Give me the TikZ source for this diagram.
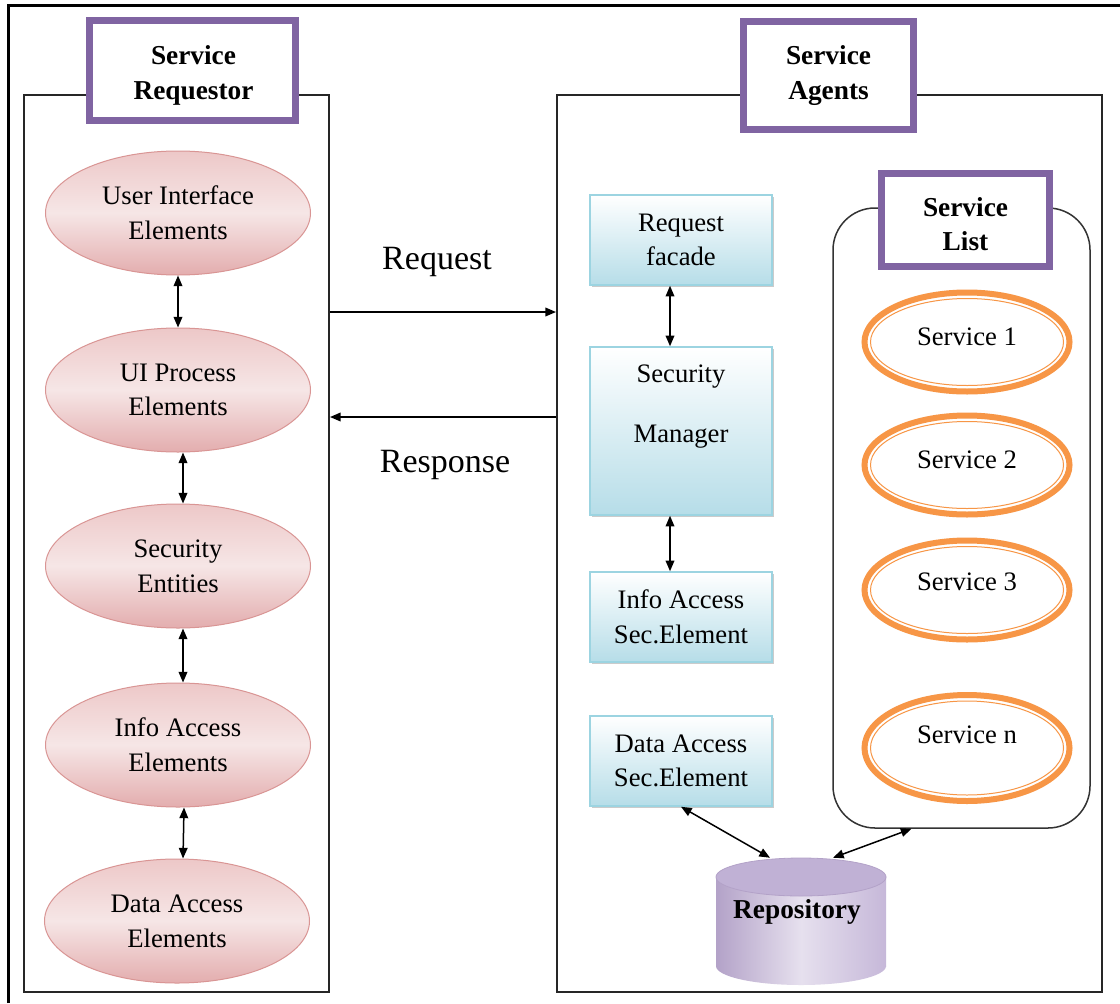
\documentclass[tikz,border=0pt]{standalone}
\usepackage{fontspec}
\setmainfont{Liberation Serif}
\usetikzlibrary{arrows.meta,shadows,shapes.geometric,calc}

\newcommand\pxw{0.75pt}
\definecolor{framepurple}{HTML}{8064A2}
\definecolor{pinkedge}{HTML}{D99594}
\definecolor{pinktop}{HTML}{EDC8C8}
\definecolor{pinkmid}{HTML}{F6E6E6}
\definecolor{pinkbot}{HTML}{E3ADAE}
\definecolor{blueedge}{HTML}{9CD4E1}
\definecolor{bluebot}{HTML}{B6DDE8}
\definecolor{svcorange}{HTML}{F79646}
\definecolor{repoL}{HTML}{B3A2C8}
\definecolor{repoM}{HTML}{E6E0EE}
\definecolor{repoR}{HTML}{C6B8D9}
\definecolor{repotop}{HTML}{C0B1D5}

\begin{document}
\begin{tikzpicture}[x=0.75pt,y=-0.75pt,
  >={Triangle[length=8pt,width=6.5pt]},
  base/.style={font=\fontsize{20}{26}\selectfont, align=center, inner sep=0pt},
  titletext/.style={font=\fontsize{20.5}{26}\selectfont\bfseries, align=center, inner sep=0pt},
  panel/.style={draw=black!85, line width=2*\pxw, fill=white, inner sep=0pt},
  titlebox/.style={draw=framepurple, line width=7*\pxw, fill=white, inner sep=0pt},
  pinkoval/.style={base, ellipse, draw=pinkedge, line width=1*\pxw,
    top color=pinktop, bottom color=pinkbot, middle color=pinkmid,
    minimum width=265*\pxw, minimum height=124*\pxw},
  bluebox/.style={base, rectangle, draw=blueedge, line width=1.5*\pxw,
    top color=white, bottom color=bluebot, minimum width=182*\pxw,
    drop shadow={shadow xshift=1.5pt, shadow yshift=-1.5pt, fill=black!45, opacity=0.45}},
  svc/.style={ellipse, draw=svcorange, line width=6*\pxw,
    minimum width=205*\pxw, minimum height=99*\pxw, inner sep=0pt},
  link/.style={line width=1.5*\pxw, black}
]
\useasboundingbox (0,0) rectangle (1120,1003);

% outer frame
\draw[line width=3*\pxw] (8,1003) -- (8,5) -- (1120,5);

% the two panels
\node[panel, minimum width=305*\pxw, minimum height=897*\pxw] (lp) at (176.5,543.5) {};
\node[panel, minimum width=545*\pxw, minimum height=897*\pxw] (rp) at (829.5,543.5) {};

% service list container
\node[draw=black!80, line width=1.5*\pxw, fill=white, rounded corners=42*\pxw,
      minimum width=257*\pxw, minimum height=620*\pxw, inner sep=0pt] (sl) at (961.5,518) {};

% titles with double purple frames
\node[titlebox, minimum width=206*\pxw, minimum height=100*\pxw] (t1) at (192.5,70.5) {};
\node[titlebox, minimum width=170*\pxw, minimum height=108*\pxw] (t2) at (828.5,75.5) {};
\node[titlebox, minimum width=168*\pxw, minimum height=93*\pxw] (t3) at (965.5,220) {};
\foreach \n in {t1,t2,t3}
  \draw[framepurple, line width=1.5*\pxw] ($(\n.north west)+(5.5,5.5)$) rectangle ($(\n.south east)+(-5.5,-5.5)$);
\node[titletext] (t1t) at (193.5,75.5) {Service\\Requestor};
\node[titletext] (t2t) at (828.5,75.5) {Service\\Agents};
\node[titletext] (t3t) at (965.5,224) {Service\\List};

% requestor elements
\node[pinkoval] (e1) at (178,213) {User Interface\\Elements};
\node[pinkoval] (e2) at (178,390) {UI Process\\Elements};
\node[pinkoval] (e3) at (178,566) {Security\\Entities};
\node[pinkoval] (e4) at (178,745) {Info Access\\Elements};
\node[pinkoval] (e5) at (177,921) {Data Access\\Elements};

\draw[link,<->] (e1.south) -- (e2.north);
\draw[link,<->] ([xshift=5*\pxw]e2.south) -- ([xshift=5*\pxw]e3.north);
\draw[link,<->] ([xshift=5*\pxw]e3.south) -- ([xshift=5*\pxw]e4.north);
\draw[link,<->] ([xshift=6*\pxw]e4.south) -- ([xshift=6*\pxw]e5.north);

% request / response
\coordinate (rqy) at (440,312);
\coordinate (rsy) at (440,417);
\draw[link,->] (lp.east |- rqy) -- (rp.west |- rqy);
\draw[link,->] (rp.west |- rsy) -- (lp.east |- rsy);
\node[font=\fontsize{25.5}{30}\selectfont] (reqlabel) at (437,262) {Request};
\node[font=\fontsize{25.5}{30}\selectfont] (resplabel) at (445,465) {Response};

% agent elements
\node[bluebox, minimum height=90*\pxw] (rq) at (681,240) {Request\\facade};
\node[bluebox, minimum height=168*\pxw] (sm) at (681,431) {};
\node[base] (smt) at (681,407) {Security\\[19pt]Manager};
\node[bluebox, minimum height=90*\pxw] (ia) at (681,617) {Info Access\\Sec.Element};
\node[bluebox, minimum height=90*\pxw] (da) at (681,761) {Data Access\\Sec.Element};

\draw[link,<->] ([xshift=-11*\pxw]rq.south) -- ([xshift=-11*\pxw]sm.north);
\draw[link,<->] ([xshift=-11*\pxw]sm.south) -- ([xshift=-11*\pxw]ia.north);

% services
\node[svc] (s1) at (967,342) {};
\node[svc] (s2) at (967,465) {};
\node[svc] (s3) at (967,590) {};
\node[svc, minimum height=106*\pxw] (sn) at (967,748) {};
\foreach \n in {s1,s2,s3}
  \draw[svcorange, line width=1*\pxw] (\n.center) ellipse [x radius=96.5, y radius=43.5];
\draw[svcorange, line width=1*\pxw] (sn.center) ellipse [x radius=96.5, y radius=47];
\node[base] (s1t) at (967,337) {Service 1};
\node[base] (s2t) at (967,460) {Service 2};
\node[base] (s3t) at (967,582) {Service 3};
\node[base] (snt) at (967,735) {Service n};

% repository cylinder
\shade[left color=repoL, right color=repoR, middle color=repoM] (716,877) rectangle (886,966);
\shade[left color=repoL, right color=repoR, middle color=repoM] (801,966) ellipse [x radius=85, y radius=19];
\filldraw[fill=repotop, draw=repoL, line width=0.8*\pxw] (801,877) ellipse [x radius=85, y radius=19];
\node[minimum width=170*\pxw, minimum height=127*\pxw, inner sep=0pt] (repo) at (801,921.5) {};
\node[titletext] (repolabel) at (797,912) {Repository};

\draw[link,<->] (da.south) -- ([xshift=-31*\pxw]repo.north);
\draw[link,<->] ([xshift=32*\pxw]repo.north) -- ([xshift=-50*\pxw]sl.south);
\end{tikzpicture}
\end{document}
